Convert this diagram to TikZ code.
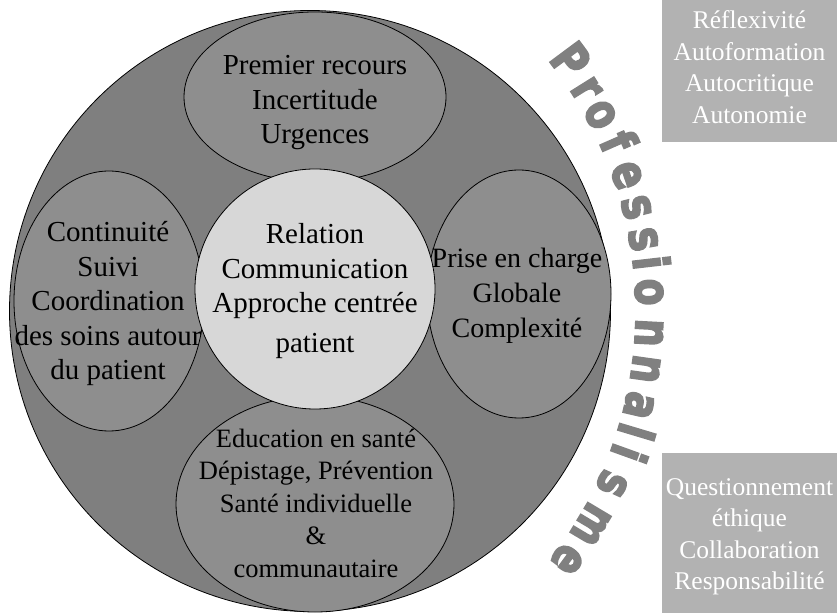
\documentclass[tikz,border=0pt]{standalone}
\usepackage{fontspec}
\setmainfont{Liberation Serif}
\newfontfamily\profont{DejaVu Sans}[BoldFeatures={FakeBold=4}]
\usetikzlibrary{shapes.geometric,calc}
\definecolor{outergray}{HTML}{7F7F7F}
\definecolor{ellgray}{HTML}{8E8E8E}
\definecolor{centergray}{HTML}{D7D7D7}
\definecolor{boxgray}{HTML}{B2B2B2}
\definecolor{profgray}{HTML}{808080}
\begin{document}
\begin{tikzpicture}[x=1pt,y=1pt,
  disc/.style={circle, draw=black, line width=0.8pt, inner sep=0pt},
  oval/.style={ellipse, draw=black, line width=0.8pt, inner sep=0pt, fill=ellgray},
  txt/.style={align=center, inner sep=0pt, font=\fontsize{29}{34.5}\selectfont},
  boxbg/.style={rectangle, fill=boxgray, inner sep=0pt},
  boxtxt/.style={align=center, text=white, inner sep=0pt, font=\fontsize{25.5}{31.5}\selectfont},
  proletter/.style={anchor=base, inner sep=0pt, text=profgray, font=\profont\bfseries\fontsize{49}{49}\selectfont}]
\useasboundingbox (0,0) rectangle (837,613);
% boxes
\node[boxbg, minimum width=175pt, minimum height=142pt] (box1) at (749.5,542) {};
\node[boxbg, minimum width=175pt, minimum height=160pt] (box2) at (749.5,80) {};
\node[boxtxt] (box1txt) at (749.5,546) {Réflexivité\\Autoformation\\Autocritique\\Autonomie};
\node[boxtxt] (box2txt) at (749.5,76) {Questionnement\\éthique\\Collaboration\\Responsabilité};
% big circle
\node[disc, fill=outergray, minimum size=601pt] (outer) at (310,302) {};
% ellipses
\node[oval, minimum width=262pt, minimum height=170pt] (topell) at (315,516) {};
\node[oval, minimum width=190pt, minimum height=260pt] (leftell) at (109,312) {};
\node[oval, minimum width=184pt, minimum height=248pt] (rightell) at (519,319) {};
\node[oval, minimum width=278pt, minimum height=216pt] (botell) at (315,109) {};
% center circle
\node[disc, fill=centergray, minimum size=240pt] (center) at (315,324) {};
% texts
\node[txt] (toptxt) at (315,510) {Premier recours\\Incertitude\\Urgences};
\node[txt] (lefttxt) at (108,309) {Continuité\\Suivi\\Coordination\\des soins autour\\du patient};
\node[txt] (centertxt) at (315,322) {Relation\\Communication\\Approche centrée\\[5pt]patient};
\node[txt, font=\fontsize{28}{35}\selectfont] (righttxt) at (517,317) {Prise en charge\\Globale\\Complexité};
\node[txt, font=\fontsize{26.5}{32.5}\selectfont] (bottxt) at (316,110) {Education en santé\\Dépistage, Prévention\\Santé individuelle\\\&\\communautaire};
% Professionnalisme along an arc
\coordinate (arcc) at (233,302);
\foreach \l/\a [count=\i] in {P/36.6, r/32.1, o/28.1, f/23.7, e/19.0, s/14.4, s/9.9, i/6.6, o/2.6, n/-3.0, n/-8.0, a/-13.1, l/-16.7, i/-19.8, s/-24.5, m/-30.8, e/-36.6}
  \node[proletter, rotate=\a-90] (pl\i) at ($(arcc)+(\a:403)$) {\scalebox{0.8}[1]{\l}};
\end{tikzpicture}
\end{document}
